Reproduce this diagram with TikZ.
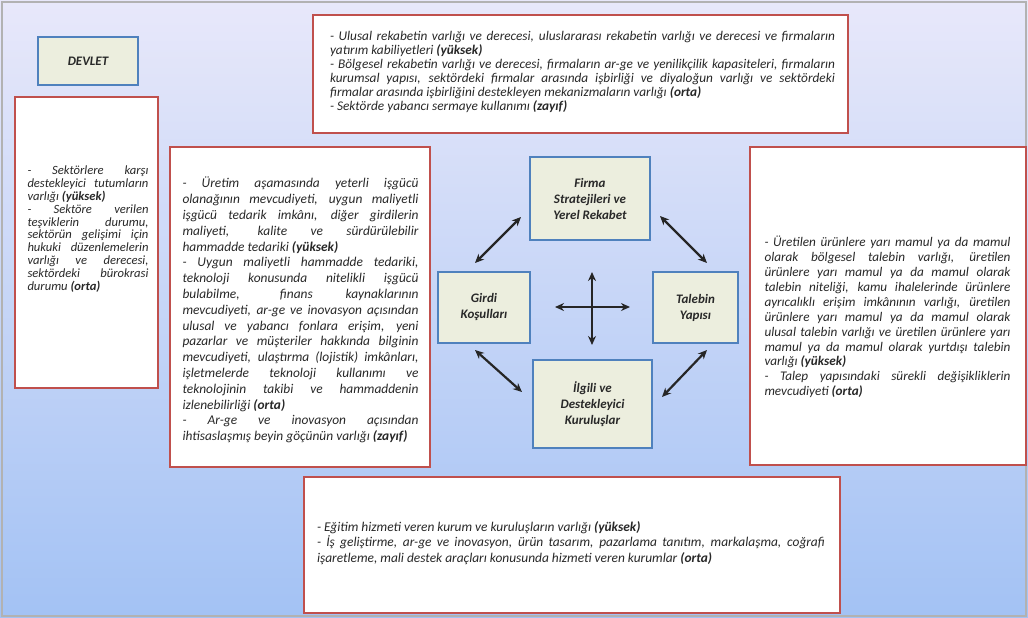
\documentclass[tikz,border=0pt]{standalone}
\usepackage{fontspec}
\setmainfont{Carlito}
\usetikzlibrary{arrows.meta}
\definecolor{bgtop}{RGB}{232,232,250}
\definecolor{bgbot}{RGB}{163,194,244}
\definecolor{redline}{RGB}{192,80,77}
\definecolor{blueline}{RGB}{79,129,189}
\definecolor{beige}{RGB}{236,238,222}
\definecolor{txt}{RGB}{40,40,40}
\newcommand{\parasetup}[2]{\hyphenpenalty10000\relax\exhyphenpenalty10000\relax\parindent0pt\relax\fontsize{#1}{#2}\selectfont\itshape}
\tikzset{
  redbox/.style={draw=redline, line width=2.8pt, fill=white, inner sep=0pt},
  bluebox/.style={draw=blueline, line width=2.4pt, fill=beige, inner sep=0pt, align=center,
    text=txt, font=\fontsize{13}{16}\selectfont\bfseries\itshape},
  para/.style 2 args={align=justify, inner sep=0pt, text=txt, font={\parasetup{#1}{#2}}},
  dblarrow/.style={{Stealth[length=9pt,width=8pt]}-{Stealth[length=9pt,width=8pt]}, line width=2.2pt, black!85}
}
\begin{document}
\begin{tikzpicture}[x=1pt,y=-1pt]
\useasboundingbox (0,0) rectangle (1028,618);
\shade[top color=bgtop, bottom color=bgbot] (0,0) rectangle (1028,618);
\draw[gray!60, line width=2pt] (2,2) rectangle (1026,616);

% red boxes
\node[redbox, minimum width=143pt, minimum height=291pt] (leftbox) at (86.5,242.5) {};
\node[redbox, minimum width=535pt, minimum height=118pt] (topbox) at (580.5,74) {};
\node[redbox, minimum width=260pt, minimum height=320pt] (midbox) at (300,307) {};
\node[redbox, minimum width=276pt, minimum height=318pt] (rightbox) at (888,306) {};
\node[redbox, minimum width=536pt, minimum height=136pt] (botbox) at (572,545) {};

% blue boxes
\node[bluebox, minimum width=100pt, minimum height=48pt] (devlet) at (88,61) {DEVLET};
\node[bluebox, minimum width=120pt, minimum height=83pt] (firma) at (590,198.5) {Firma\\Stratejileri ve\\Yerel Rekabet};
\node[bluebox, minimum width=92pt, minimum height=71pt] (girdi) at (484,307.5) {Girdi\\Koşulları};
\node[bluebox, minimum width=85pt, minimum height=71pt] (talep) at (695.5,307.5) {Talebin\\Yapısı};
\node[bluebox, minimum width=119pt, minimum height=88pt] (ilgili) at (592.5,404) {İlgili ve\\Destekleyici\\Kuruluşlar};

% texts
\node[para={13.3}{14}, text width=505pt] (toptext) at (582.5,72) {%
- Ulusal rekabetin varlığı ve derecesi, uluslararası rekabetin varlığı ve derecesi ve firmaların\linebreak
yatırım kabiliyetleri \textbf{(yüksek)}\par
- Bölgesel rekabetin varlığı ve derecesi, firmaların ar-ge ve yenilikçilik kapasiteleri, firmaların\linebreak
kurumsal yapısı, sektördeki firmalar arasında işbirliği ve diyaloğun varlığı ve sektördeki\linebreak
firmalar arasında işbirliğini destekleyen mekanizmaların varlığı \textbf{(orta)}\par
- Sektörde yabancı sermaye kullanımı \textbf{(zayıf)}};

\node[para={12.6}{12.8}, text width=121pt] (lefttext) at (88,229) {%
- Sektörlere karşı\linebreak
destekleyici tutumların\linebreak
varlığı \textbf{(yüksek)}\par
- Sektöre verilen\linebreak
teşviklerin durumu,\linebreak
sektörün gelişimi için\linebreak
hukuki düzenlemelerin\linebreak
varlığı ve derecesi,\linebreak
sektördeki bürokrasi\linebreak
durumu \textbf{(orta)}};

\node[para={13.4}{15.8}, text width=236pt] (midtext) at (300.5,310) {%
- Üretim aşamasında yeterli işgücü\linebreak
olanağının mevcudiyeti, uygun maliyetli\linebreak
işgücü tedarik imkânı, diğer girdilerin\linebreak
maliyeti, kalite ve sürdürülebilir\linebreak
hammadde tedariki \textbf{(yüksek)}\par
- Uygun maliyetli hammadde tedariki,\linebreak
teknoloji konusunda nitelikli işgücü\linebreak
bulabilme, finans kaynaklarının\linebreak
mevcudiyeti, ar-ge ve inovasyon açısından\linebreak
ulusal ve yabancı fonlara erişim, yeni\linebreak
pazarlar ve müşteriler hakkında bilginin\linebreak
mevcudiyeti, ulaştırma (lojistik) imkânları,\linebreak
işletmelerde teknoloji kullanımı ve\linebreak
teknolojinin takibi ve hammaddenin\linebreak
izlenebilirliği \textbf{(orta)}\par
- Ar-ge ve inovasyon açısından\linebreak
ihtisaslaşmış beyin göçünün varlığı \textbf{(zayıf)}};

\node[para={13.2}{14.9}, text width=246pt] (righttext) at (887.5,317) {%
- Üretilen ürünlere yarı mamul ya da mamul\linebreak
olarak bölgesel talebin varlığı, üretilen\linebreak
ürünlere yarı mamul ya da mamul olarak\linebreak
talebin niteliği, kamu ihalelerinde ürünlere\linebreak
ayrıcalıklı erişim imkânının varlığı, üretilen\linebreak
ürünlere yarı mamul ya da mamul olarak\linebreak
ulusal talebin varlığı ve üretilen ürünlere yarı\linebreak
mamul ya da mamul olarak yurtdışı talebin\linebreak
varlığı \textbf{(yüksek)}\par
- Talep yapısındaki sürekli değişikliklerin\linebreak
mevcudiyeti \textbf{(orta)}};

\node[para={13.4}{15.5}, text width=508pt] (bottext) at (571,543) {%
- Eğitim hizmeti veren kurum ve kuruluşların varlığı \textbf{(yüksek)}\par
- İş geliştirme, ar-ge ve inovasyon, ürün tasarım, pazarlama tanıtım, markalaşma, coğrafi\linebreak
işaretleme, mali destek araçları konusunda hizmeti veren kurumlar \textbf{(orta)}};

% arrow end points
\coordinate (fg1) at (521,217); \coordinate (fg2) at (475,263);
\coordinate (ft1) at (660,216); \coordinate (ft2) at (707,263);
\coordinate (gi1) at (475,350); \coordinate (gi2) at (522,392);
\coordinate (ti1) at (707,350); \coordinate (ti2) at (662,397);
\coordinate (cv1) at (592,272); \coordinate (cv2) at (592,345);
\coordinate (ch1) at (555,307); \coordinate (ch2) at (630,307);

\draw[dblarrow] (fg1) -- (fg2);
\draw[dblarrow] (ft1) -- (ft2);
\draw[dblarrow] (gi1) -- (gi2);
\draw[dblarrow] (ti1) -- (ti2);
\draw[dblarrow] (cv1) -- (cv2);
\draw[dblarrow] (ch1) -- (ch2);
\end{tikzpicture}
\end{document}
